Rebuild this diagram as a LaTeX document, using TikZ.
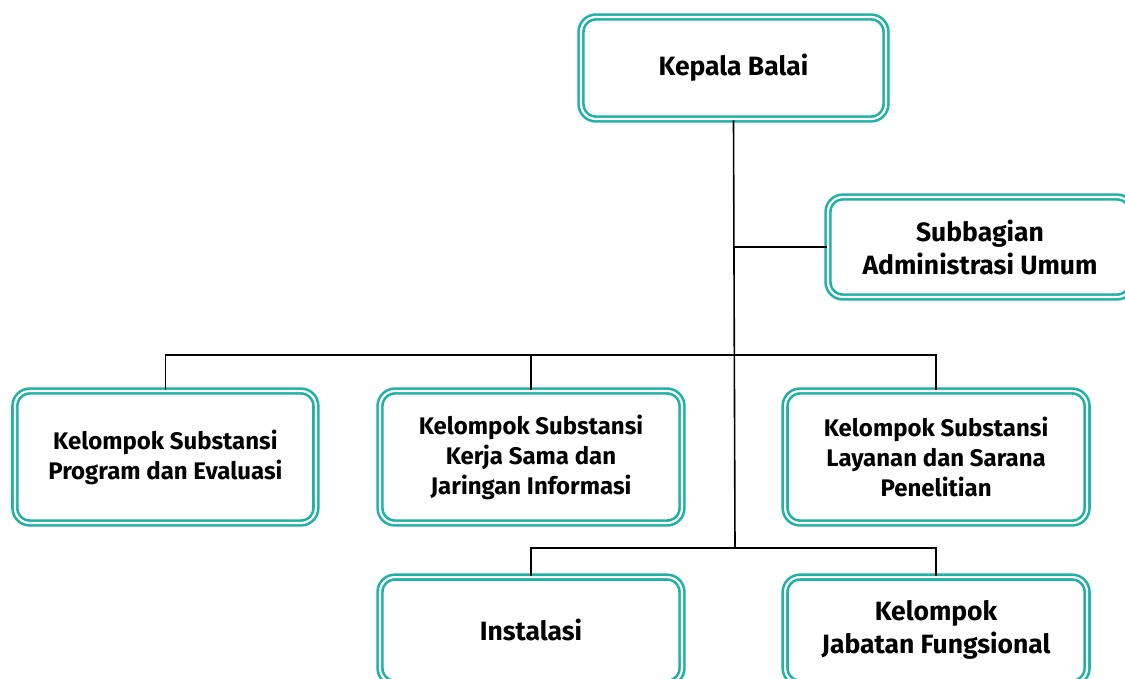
\documentclass[tikz,border=0pt]{standalone}
\usepackage{fontspec}
\setmainfont{Fira Sans}
\usepackage{tikz}
\usetikzlibrary{positioning}
\definecolor{orgteal}{RGB}{30,178,165}
\tikzset{
    orgnode/.style={rectangle,rounded corners=15pt,draw=orgteal,double=white,double distance=2.2pt,line width=2.6pt, inner sep=0pt, align=center, font=\bfseries\fontsize{26.5}{33}\selectfont},
    orgsmall/.style={font=\bfseries\fontsize{24}{30}\selectfont},
    orgline/.style={line width=1.6pt, black}
}
\begin{document}
\begin{tikzpicture}[x=1pt, y=-1pt]
\useasboundingbox (0,0) rectangle (1125,678);
\clip (0,0) rectangle (1125,678);
\node[orgnode, minimum width=305pt, minimum height=102pt] (kepala) at (733.5,68) {Kepala Balai};
\node[orgnode, minimum width=304pt, minimum height=100pt] (subbagian) at (980,247) {Subbagian\\Administrasi Umum};
\node[orgnode, orgsmall, minimum width=302pt, minimum height=132pt] (kerjasama) at (531,457) {Kelompok Substansi\\Kerja Sama dan\\Jaringan Informasi};
\node[orgnode, orgsmall, minimum width=301pt, minimum height=132pt, left=61.5pt of kerjasama] (program) {Kelompok Substansi\\Program dan Evaluasi};
\node[orgnode, orgsmall, minimum width=302pt, minimum height=132pt, right=100.5pt of kerjasama] (layanan) {Kelompok Substansi\\Layanan dan Sarana\\Penelitian};
\node[orgnode, minimum width=302pt, minimum height=106pt, below=51.5pt of kerjasama] (instalasi) {Instalasi};
\node[orgnode, minimum width=302pt, minimum height=106pt, below=51.5pt of layanan] (jabatan) {Kelompok\\Jabatan Fungsional};

\coordinate (split1) at (735,355);
\coordinate (split2) at (735,548);

\draw[orgline] (kepala.south) -- (split2);
\draw[orgline] (kepala.south |- subbagian.west) -- (subbagian.west);
\draw[orgline] (split1) -| (program.north);
\draw[orgline] (split1) -| (kerjasama.north);
\draw[orgline] (split1) -| (layanan.north);
\draw[orgline] (split2) -| (instalasi.north);
\draw[orgline] (split2) -| (jabatan.north);
\end{tikzpicture}
\end{document}
